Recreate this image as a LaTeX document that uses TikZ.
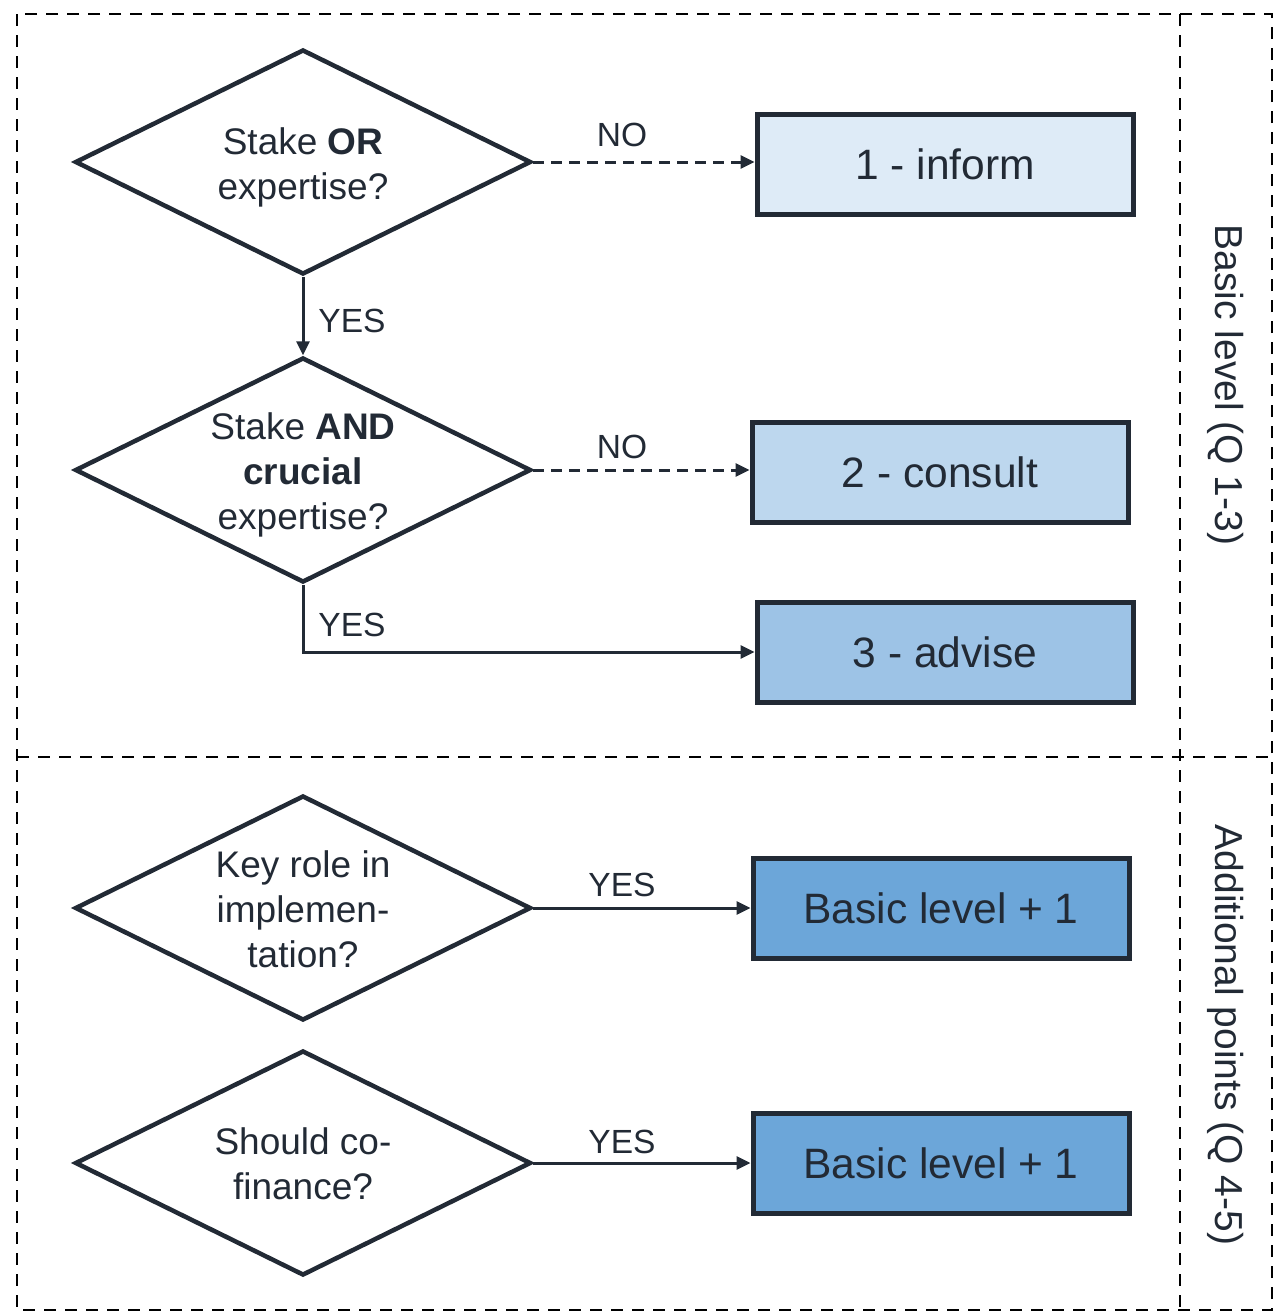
\documentclass[tikz,border=0pt]{standalone}
\usepackage{fontspec}
\setmainfont{Liberation Sans}
\usetikzlibrary{shapes.geometric,arrows.meta}
\definecolor{ink}{HTML}{222A35}
\definecolor{cA}{HTML}{DEEBF7}
\definecolor{cB}{HTML}{BDD7EE}
\definecolor{cC}{HTML}{9DC3E6}
\definecolor{cD}{HTML}{6CA6D9}
\tikzset{
  frame/.style={draw=black, line width=2.5pt, dash pattern=on 12pt off 9pt},
  decision/.style={diamond, draw=ink, line width=4.5pt, inner sep=0pt, minimum width=456pt, minimum height=225pt},
  qtext/.style={align=center, text=ink, inner sep=0pt, font=\fontsize{37}{45}\selectfont},
  outcome/.style={rectangle, draw=ink, line width=5pt, minimum width=376pt, minimum height=100pt, text=ink, font=\fontsize{42.5}{48}\selectfont},
  conn/.style={draw=ink, line width=3pt, -{Triangle[length=14pt,width=13pt]}},
  dashconn/.style={conn, dash pattern=on 11pt off 7pt},
  lbl/.style={text=ink, font=\fontsize{33.5}{40}\selectfont, inner sep=0pt},
  side/.style={text=ink, font=\fontsize{39}{44}\selectfont, rotate=-90, inner sep=0pt}
}
\begin{document}
\begin{tikzpicture}[x=1pt,y=-1pt]
\useasboundingbox (0,0) rectangle (1273,1312);
% frame
\draw[frame] (17,14) rectangle (1272,1310);
\draw[frame] (1180,14) -- (1180,1310);
\draw[frame] (17,757) -- (1272,757);
% decisions
\node[decision] (d1) at (303,162) {};
\node[decision] (d2) at (303,470) {};
\node[decision] (d3) at (303,908) {};
\node[decision] (d4) at (303,1163) {};
\node[qtext, yshift=-5pt] (t1) at (d1.center) {Stake \textbf{OR}\\expertise?};
\node[qtext, yshift=-5pt] (t2) at (d2.center) {Stake \textbf{AND}\\\textbf{crucial}\\expertise?};
\node[qtext, yshift=-1pt] (t3) at (d3.center) {Key role in\\implemen-\\tation?};
\node[qtext, yshift=-1pt] (t4) at (d4.center) {Should co-\\finance?};
% outcomes
\node[outcome, fill=cA] (b1) at (945,164) {1 - inform};
\node[outcome, fill=cB] (b2) at (940,472) {2 - consult};
\node[outcome, fill=cC] (b3) at (945,652) {3 - advise};
\node[outcome, fill=cD] (b4) at (941,908) {Basic level + 1};
\node[outcome, fill=cD] (b5) at (941,1163) {Basic level + 1};
% connectors
\draw[dashconn] (d1.east) -- (d1.east -| b1.west);
\draw[conn] (d1.south) -- (d2.north);
\draw[dashconn] (d2.east) -- (d2.east -| b2.west);
\draw[conn] (d2.south) |- (b3.west);
\draw[conn] (d3.east) -- (d3.east -| b4.west);
\draw[conn] (d4.east) -- (d4.east -| b5.west);
% labels
\node[lbl] (no1) at (622,135) {NO};
\node[lbl] (yes1) at (352,321) {YES};
\node[lbl] (no2) at (622,447) {NO};
\node[lbl] (yes2) at (352,625) {YES};
\node[lbl] (yes3) at (622,885) {YES};
\node[lbl] (yes4) at (622,1142) {YES};
% side labels
\node[side] (s1) at (1226,385) {Basic level (Q 1-3)};
\node[side] (s2) at (1226,1035) {Additional points (Q 4-5)};
\end{tikzpicture}
\end{document}
